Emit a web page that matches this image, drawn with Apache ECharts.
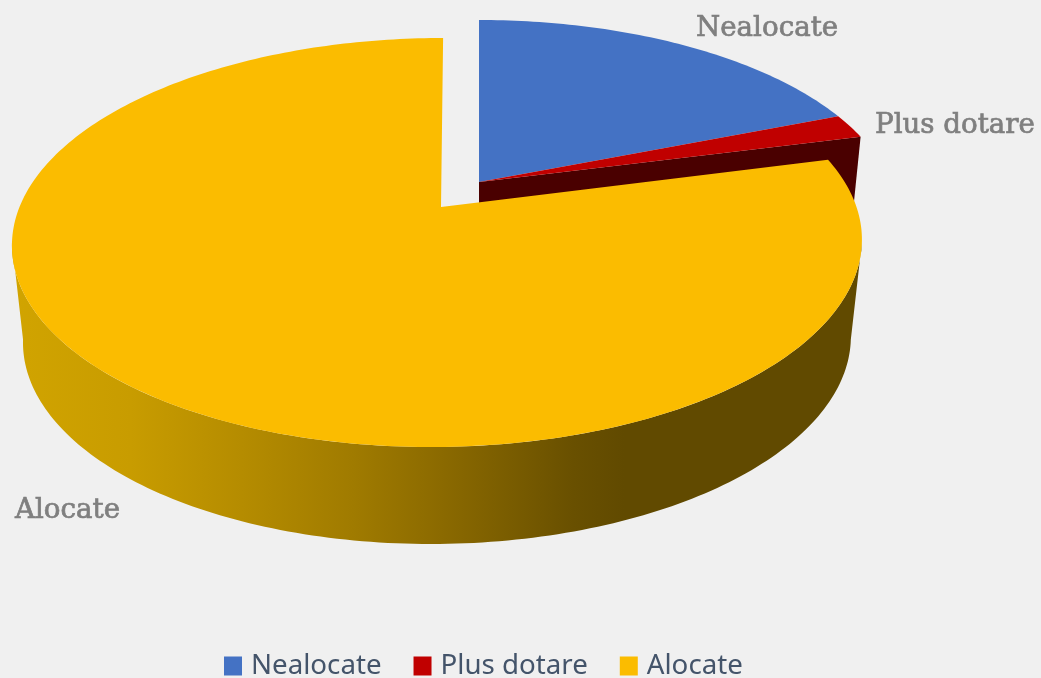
<!DOCTYPE html>
<html><head><meta charset="utf-8">
<style>html,body{margin:0;padding:0;background:#f0f0f0}#c{width:1041px;height:678px}</style>
<script src="https://cdn.jsdelivr.net/npm/echarts@6/dist/echarts.min.js"></script>
</head><body><div id="c"></div>
<script>
const categories = ['Nealocate', 'Plus dotare', 'Alocate'];
const values = [19, 2, 79];
const colors = ['#4472c4', '#c00000', '#fbbc00'];
const sideColors = ['#2a4577', '#4a0000', null];

// Perspective pie geometry: unit circle -> image plane
const persp = 0.1736, depth = 97, baseScale = 0.974;
const mainPlane = { rimX: 438, apexX: 441, apexY: 207, a: 162.4, d: 418.5, tilt: 6 };
const outPlane  = { rimX: 479, apexX: 479, apexY: 182, a: 158.5, d: 411, tilt: 0 };
const planes = [outPlane, outPlane, mainPlane];
const frontArc = [100, 260];
const labelPos = [[696, 29], [875, 126], [15, 511]];
const labelSize = 27.7;

function rim(p, deg, lower) {
  const t = deg * Math.PI / 180, u = Math.sin(t), v = Math.cos(t), w = 1 + persp * v;
  const s = lower ? baseScale : 1;
  return [p.rimX + (s * p.d * u + p.tilt * v) / w, (p.apexY - p.a * v) / w + (lower ? depth : 0)];
}
function arc(p, a0, a1, lower) {
  const n = Math.max(2, Math.ceil(Math.abs(a1 - a0))), pts = [];
  for (let i = 0; i <= n; i++) pts.push(rim(p, a0 + (a1 - a0) * i / n, lower));
  return pts;
}
const sideFill = { type: 'linear', x: 12, y: 0, x2: 862, y2: 0, global: true, colorStops: [
  { offset: 0, color: '#d1a400' }, { offset: 0.14, color: '#c89c00' }, { offset: 0.27, color: '#b58c00' },
  { offset: 0.40, color: '#a07b00' }, { offset: 0.51, color: '#8a6900' }, { offset: 0.66, color: '#695000' },
  { offset: 0.72, color: '#614a00' }, { offset: 1, color: '#614a00' } ] };

function renderSlice(idx) {
  return function (params, api) {
    const total = values.reduce((s, x) => s + x, 0);
    const before = values.slice(0, idx).reduce((s, x) => s + x, 0);
    const a0 = before / total * 360, a1 = a0 + api.value(0) / total * 360, p = planes[idx];
    const children = [];
    const apex = [p.apexX, p.apexY], apexLow = [p.apexX, p.apexY + depth];
    if (idx === 1) {
      const e = rim(p, a1), el = rim(p, a1, true);
      children.push({ type: 'polygon', shape: { points: [apex, e, el, apexLow] }, style: { fill: sideColors[1] } });
    }
    if (idx === 2) {
      const f0 = Math.max(a0, frontArc[0]), f1 = Math.min(a1, frontArc[1]);
      children.push({ type: 'polygon', shape: { points: arc(p, f0, f1).concat(arc(p, f0, f1, true).reverse()) }, style: { fill: sideFill } });
    }
    children.push({ type: 'polygon', shape: { points: [apex].concat(arc(p, a0, a1)) }, style: { fill: colors[idx] } });
    children.push({ type: 'text', x: labelPos[idx][0], y: labelPos[idx][1], style: {
      text: categories[idx], fill: '#7f7f7f', stroke: '#7f7f7f', lineWidth: 0.7,
      font: labelSize + 'px "DejaVu Serif"', verticalAlign: 'middle', align: 'left' } });
    return { type: 'group', children };
  };
}

const chart = echarts.init(document.getElementById('c'), null, { renderer: 'canvas' });
chart.setOption({
  backgroundColor: '#f0f0f0',
  animation: false,
  legend: {
    data: categories, left: 224, top: 652, icon: 'rect', itemWidth: 18, itemHeight: 19, itemGap: 32, padding: 0,
    selectedMode: false,
    textStyle: { color: '#44546a', fontFamily: '"Noto Sans"', fontSize: 27.7, padding: [0, 0, 0, 4] }
  },
  series: categories.map((name, i) => ({
    type: 'custom', name, coordinateSystem: 'none', silent: true,
    itemStyle: { color: colors[i] },
    data: [[values[i]]],
    renderItem: renderSlice(i)
  }))
});
</script></body></html>
